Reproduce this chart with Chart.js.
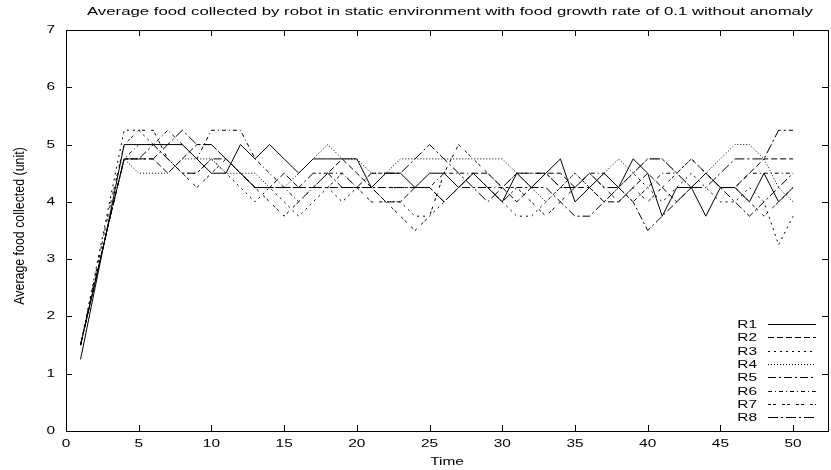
<!DOCTYPE html>
<html>
<head>
<meta charset="utf-8">
<script src="https://cdn.jsdelivr.net/npm/chart.js@4/dist/chart.umd.min.js"></script>
<style>
  html, body { margin: 0; padding: 0; background: #fff; }
</style>
</head>
<body>
<canvas id="chart" width="831" height="470"></canvas>
<script>
const title = 'Average food collected by robot in static environment with food growth rate of 0.1 without anomaly'
const xTitle = 'Time'
const yTitle = 'Average food collected (unit)'
const time = [
  1, 2, 3, 4, 5, 6, 7, 8, 9, 10,
  11, 12, 13, 14, 15, 16, 17, 18, 19, 20,
  21, 22, 23, 24, 25, 26, 27, 28, 29, 30,
  31, 32, 33, 34, 35, 36, 37, 38, 39, 40,
  41, 42, 43, 44, 45, 46, 47, 48, 49, 50
]
const labels = ['R1', 'R2', 'R3', 'R4', 'R5', 'R6', 'R7', 'R8']
const r1 = [
  1.25, 2.5, 3.75, 5, 5, 5, 5, 5, 4.75, 4.5,
  4.5, 5, 4.75, 5, 4.75, 4.5, 4.75, 4.75, 4.75, 4.75,
  4.25, 4.5, 4.5, 4.25, 4.5, 4.5, 4.25, 4.5, 4.25, 4,
  4.5, 4.25, 4.5, 4.75, 4, 4.25, 4.5, 4.25, 4.75, 4.5,
  3.75, 4.25, 4.25, 3.75, 4.25, 4.25, 4, 4.5, 4, 4.25
]
const r2 = [
  1.5, 2.6, 3.7, 4.75, 4.75, 4.75, 4.5, 4.75, 5, 5,
  4.75, 4.5, 4.25, 4.25, 4.5, 4.25, 4.25, 4.5, 4.75, 4.5,
  4.25, 4, 4, 4.25, 4.25, 4, 4.25, 4.5, 4.5, 4.25,
  4, 4.25, 4.5, 4.5, 4.25, 4.25, 4, 4, 4.25, 4.5,
  4.25, 4, 4.25, 4.5, 4.25, 4.25, 4.5, 4.75, 4.75, 4.75
]
const r3 = [
  1.5, 2.75, 4, 5.25, 5.25, 5, 4.75, 4.5, 4.5, 4.75,
  4.5, 4.25, 4, 4.25, 4, 3.75, 4, 4.25, 4, 4.25,
  4.25, 4, 4, 3.75, 3.75, 4, 4.25, 4.5, 4.25, 4,
  3.75, 3.75, 4, 4.25, 4.5, 4.25, 4, 4.25, 4.5, 4.25,
  4, 4.25, 4.5, 4.25, 4, 4, 4.25, 4, 3.25, 3.75
]
const r4 = [
  1.5, 2.6, 3.7, 4.75, 4.5, 4.5, 4.5, 4.75, 4.75, 4.75,
  4.5, 4.5, 4.5, 4.25, 4.25, 4.5, 4.75, 5, 4.75, 4.75,
  4.5, 4.5, 4.75, 4.75, 4.75, 4.75, 4.75, 4.75, 4.75, 4.75,
  4.5, 4.25, 4, 4.25, 4.5, 4.25, 4.5, 4.75, 4.5, 4.75,
  4.75, 4.5, 4.25, 4.5, 4.75, 5, 5, 4.75, 4.25, 4
]
const r5 = [
  1.5, 2.6, 3.7, 4.75, 4.75, 5, 4.75, 4.5, 4.5, 4.75,
  4.75, 4.5, 4.25, 4.25, 4.25, 4.25, 4.25, 4.25, 4.25, 4.25,
  4.25, 4.25, 4.25, 4.25, 4.25, 4, 4.25, 4.25, 4.25, 4,
  4.25, 4.25, 4.25, 4, 3.75, 3.75, 4, 4.25, 4, 3.5,
  3.75, 4, 4.25, 4.5, 4.25, 4, 3.75, 4, 4.25, 4.5
]
const r6 = [
  1.5, 2.6, 3.7, 4.75, 5, 5, 5.25, 5, 4.75, 5.25,
  5.25, 5.25, 4.75, 4.5, 4.25, 4, 4.25, 4.5, 4.5, 4.25,
  4.25, 4.25, 4.25, 4.25, 4.25, 4.5, 4.5, 4.5, 4.25, 4.25,
  4.5, 4.5, 4.5, 4.25, 4.25, 4.5, 4.5, 4.25, 4, 4.25,
  4.5, 4.5, 4.75, 4.5, 4.25, 4.25, 4.5, 4.5, 4.5, 4.5
]
const r7 = [
  1.5, 2.7, 3.9, 5, 5.25, 5.25, 4.75, 4.5, 4.25, 4.5,
  4.75, 4.5, 4.25, 4, 3.75, 4, 4.25, 4.25, 4.5, 4.25,
  4, 4, 3.75, 3.5, 3.75, 4.5, 5, 4.75, 4.5, 4.25,
  4.25, 4, 3.75, 4, 4.25, 4.5, 4.25, 4, 4.25, 4,
  4.25, 4.5, 4.75, 4.5, 4.25, 4.25, 4, 3.75, 4, 4.25
]
const r8 = [
  1.5, 2.6, 3.7, 4.75, 4.75, 4.75, 5, 5.25, 5, 5,
  4.75, 4.5, 4.25, 4.25, 4.25, 4.25, 4.5, 4.5, 4.25, 4.25,
  4.5, 4.5, 4.5, 4.75, 5, 4.75, 4.5, 4.25, 4, 4.25,
  4.5, 4.5, 4.5, 4.25, 4.25, 4.5, 4.25, 4.25, 4.5, 4.75,
  4.75, 4.5, 4.25, 4.25, 4.5, 4.75, 4.75, 4.75, 5.25, 5.25
]
const series = [r1, r2, r3, r4, r5, r6, r7, r8]
const dashes = [[], [6, 3], [2, 4], [1, 2], [8, 3, 2, 3], [4, 3, 1, 3], [3, 2, 3, 6], [10, 3, 2, 3]]

const FONT = '"Liberation Sans", Arial, Helvetica, sans-serif'
const SIZE = 11
const STRETCH = 1.4 // the original png is wider than its fonts

// text squeezed/stretched in x the way the source image is
function wideText (ctx, text, x, y, align, sx, rotate) {
  ctx.save()
  ctx.translate(x, y)
  ctx.scale(sx, 1)
  if (rotate) ctx.rotate(-Math.PI / 2)
  ctx.textAlign = align
  ctx.textBaseline = 'middle'
  ctx.fillText(text, 0, 0)
  ctx.restore()
}

// gnuplot style frame: border box, inward ticks on all sides, labels, title, key
const gnuplotFrame = {
  id: 'gnuplotFrame',
  afterDatasetsDraw (chart) {
    const { ctx, chartArea: a, scales } = chart
    ctx.save()
    ctx.strokeStyle = '#000'
    ctx.lineWidth = 1
    ctx.setLineDash([])
    ctx.strokeRect(Math.round(a.left) + 0.5, Math.round(a.top) + 0.5,
      Math.round(a.right - a.left), Math.round(a.bottom - a.top))

    const tl = 6
    ctx.beginPath()
    scales.x.ticks.forEach(t => {
      const px = Math.round(scales.x.getPixelForValue(t.value)) + 0.5
      ctx.moveTo(px, a.bottom); ctx.lineTo(px, a.bottom - tl)
      ctx.moveTo(px, a.top); ctx.lineTo(px, a.top + tl)
    })
    scales.y.ticks.forEach(t => {
      const py = Math.round(scales.y.getPixelForValue(t.value)) + 0.5
      ctx.moveTo(a.left, py); ctx.lineTo(a.left + tl, py)
      ctx.moveTo(a.right, py); ctx.lineTo(a.right - tl, py)
    })
    ctx.stroke()

    ctx.fillStyle = '#000'
    ctx.font = SIZE + 'px ' + FONT

    scales.x.ticks.forEach(t => {
      wideText(ctx, String(t.value), scales.x.getPixelForValue(t.value), a.bottom + 13, 'center', STRETCH)
    })
    scales.y.ticks.forEach(t => {
      wideText(ctx, String(t.value), a.left - 11, scales.y.getPixelForValue(t.value), 'right', STRETCH)
    })
    wideText(ctx, xTitle, (a.left + a.right) / 2, 462, 'center', STRETCH)

    const tw = ctx.measureText(title).width
    wideText(ctx, title, 450, 12, 'center', 726 / tw)

    ctx.font = '12.4px ' + FONT
    wideText(ctx, yTitle, 20, 226, 'center', 1.25, true)
    ctx.font = SIZE + 'px ' + FONT

    // key
    chart.data.datasets.forEach((ds, i) => {
      const y = Math.round(324 + i * 13.3) + 0.5
      wideText(ctx, ds.label, 757, y, 'right', STRETCH)
      ctx.beginPath()
      ctx.setLineDash(ds.borderDash)
      ctx.moveTo(768, y)
      ctx.lineTo(816, y)
      ctx.stroke()
    })
    ctx.restore()
  }
}

new Chart(document.getElementById('chart'), {
  type: 'line',
  data: {
    datasets: series.map((vals, i) => ({
      label: labels[i],
      data: time.map((t, j) => ({ x: t, y: vals[j] })),
      borderColor: '#000',
      borderWidth: 1,
      borderDash: dashes[i],
      pointRadius: 0,
      tension: 0,
      fill: false
    }))
  },
  options: {
    responsive: false,
    animation: false,
    devicePixelRatio: 1,
    layout: { padding: { top: 30, right: 3, left: 0, bottom: 0 } },
    plugins: {
      legend: { display: false },
      tooltip: { enabled: false },
      title: { display: false }
    },
    scales: {
      x: {
        type: 'linear',
        min: 0,
        max: 52.4,
        afterFit: s => { s.height = 39 },
        grid: { display: false, drawTicks: false },
        border: { display: false },
        ticks: { stepSize: 5, includeBounds: false, display: false }
      },
      y: {
        min: 0,
        max: 7,
        afterFit: s => { s.width = 66 },
        grid: { display: false, drawTicks: false },
        border: { display: false },
        ticks: { stepSize: 1, display: false }
      }
    }
  },
  plugins: [gnuplotFrame]
})
</script>
</body>
</html>
